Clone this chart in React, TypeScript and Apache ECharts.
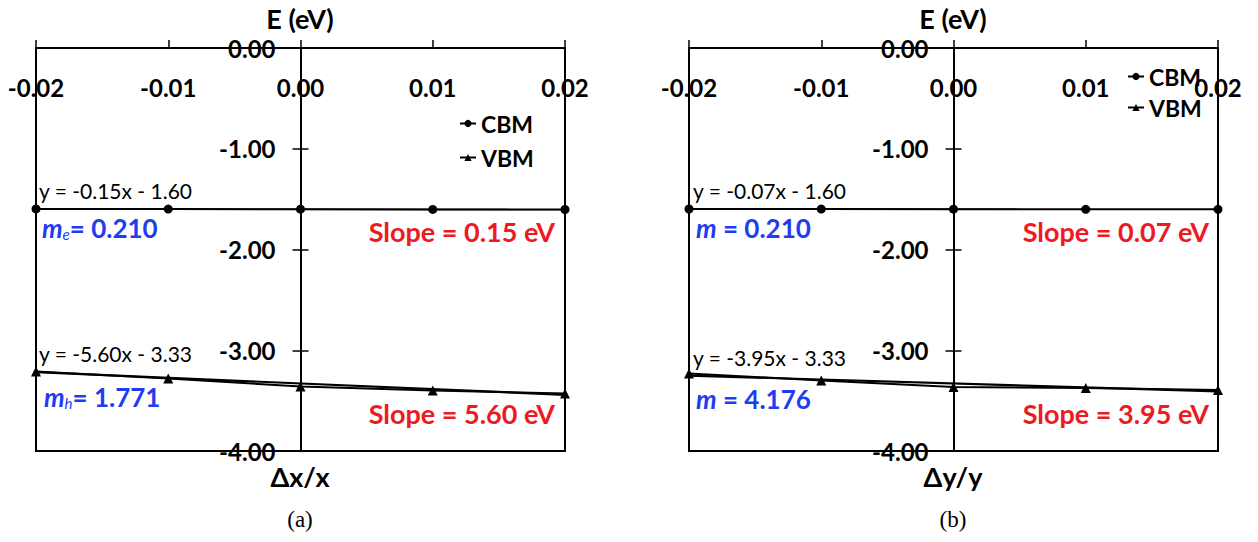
import React, { useEffect, useRef } from "react";
import * as echarts from "echarts";

const strainX = [-0.02, -0.01, 0, 0.01, 0.02];
const xTickRange = [-0.02, 0.02];
const yTickRange = [-4, 0];

// Panel (a): strain along x
const cbmA = [-1.597, -1.599, -1.6, -1.602, -1.603];
const vbmA = [-3.21, -3.28, -3.36, -3.4, -3.43];
// Panel (b): strain along y
const cbmB = [-1.598, -1.599, -1.6, -1.601, -1.601];
const vbmB = [-3.23, -3.3, -3.365, -3.375, -3.395];

// Trendline coefficients [slope, intercept]
const trendCbmA = [-0.15, -1.6];
const trendVbmA = [-5.6, -3.33];
const trendCbmB = [-0.07, -1.6];
const trendVbmB = [-3.95, -3.33];

const seriesNames = ["CBM", "VBM"];
const panelLabels = ["(a)", "(b)"];
const xTitles = ["\u0394x/x", "\u0394y/y"];
const yTitle = "E (eV)";

const FONT = "Lato";
const BLUE = "#1f3cf2";
const RED = "#ee1a22";

function App() {
  const ref = useRef<HTMLDivElement>(null);
  useEffect(() => {
    document.body.style.margin = "0";
    const chart = echarts.init(ref.current!, null, { renderer: "svg" });

    const mainGrids = [
      { left: 36, top: 48, width: 529, height: 403 },
      { left: 689, top: 48, width: 529, height: 403 },
    ];
    // thin grids whose left edge sits at x = 0 of each panel, carrying the E axis
    const zeroFrac = (0 - xTickRange[0]) / (xTickRange[1] - xTickRange[0]);
    const axisGrids = mainGrids.map((g) => ({
      left: g.left + g.width * zeroFrac,
      top: g.top,
      width: 10,
      height: g.height,
    }));

    const grids: any[] = [
      ...mainGrids.map((g) => ({
        ...g,
        show: true,
        borderColor: "#000",
        borderWidth: 2,
        backgroundColor: "transparent",
      })),
      ...axisGrids.map((g) => ({ ...g, show: false })),
    ].map((g) => ({ ...g, containLabel: false, outerBoundsMode: "none" }));

    const xAxes: any[] = [];
    const yAxes: any[] = [];
    mainGrids.forEach((_, gi) => {
      xAxes.push({
        type: "value",
        gridIndex: gi,
        position: "top",
        min: xTickRange[0],
        max: xTickRange[1],
        interval: 0.01,
        axisLine: { onZero: false, lineStyle: { color: "#000", width: 2 } },
        axisTick: { show: true, length: 8, lineStyle: { color: "#000", width: 1.5 } },
        axisLabel: {
          inside: true,
          margin: 27,
          color: "#000",
          fontFamily: FONT,
          fontWeight: "bold",
          fontSize: 24,
          formatter: (v: number) => v.toFixed(2),
        },
        splitLine: { show: false },
      });
    });
    axisGrids.forEach((_, gi) => {
      xAxes.push({
        type: "value",
        gridIndex: gi + 2,
        show: false,
        min: xTickRange[0],
        max: xTickRange[1],
      });
    });
    // hidden y axes for the plotted series
    mainGrids.forEach((_, gi) => {
      yAxes.push({
        type: "value",
        gridIndex: gi,
        show: false,
        min: yTickRange[0],
        max: yTickRange[1],
        interval: 1,
        splitLine: { show: false },
      });
    });
    // visible E axes (outer ticks + labels)
    axisGrids.forEach((_, gi) => {
      yAxes.push({
        type: "value",
        gridIndex: gi + 2,
        position: "left",
        min: yTickRange[0],
        max: yTickRange[1],
        interval: 1,
        axisLine: { onZero: false, lineStyle: { color: "#000", width: 2 } },
        axisTick: { show: true, length: 8, lineStyle: { color: "#000", width: 1.5 } },
        axisLabel: {
          margin: 25,
          color: "#000",
          fontFamily: FONT,
          fontWeight: "bold",
          fontSize: 24,
          formatter: (v: number) => v.toFixed(2),
        },
        splitLine: { show: false },
      });
    });
    // inner halves of the cross ticks
    axisGrids.forEach((_, gi) => {
      yAxes.push({
        type: "value",
        gridIndex: gi + 2,
        position: "left",
        min: yTickRange[0],
        max: yTickRange[1],
        interval: 1,
        axisLine: { onZero: false, lineStyle: { color: "#000", width: 2 } },
        axisTick: { show: true, inside: true, length: 8, lineStyle: { color: "#000", width: 1.5 } },
        axisLabel: { show: false },
        splitLine: { show: false },
      });
    });

    const pts = (ys: number[]) => strainX.map((x, i) => [x, ys[i]]);
    const trend = (c: number[]) => xTickRange.map((x) => [x, c[0] * x + c[1]]);

    const panels = [
      { cbm: cbmA, vbm: vbmA, tc: trendCbmA, tv: trendVbmA },
      { cbm: cbmB, vbm: vbmB, tc: trendCbmB, tv: trendVbmB },
    ];
    const series: any[] = [];
    panels.forEach((p, gi) => {
      series.push({
        name: "CBM",
        type: "line",
        xAxisIndex: gi,
        yAxisIndex: gi,
        data: pts(p.cbm),
        symbol: "circle",
        symbolSize: 9,
        itemStyle: { color: "#000" },
        lineStyle: { color: "#000", width: 2 },
        z: 5,
      });
      series.push({
        name: "CBM trend",
        type: "line",
        xAxisIndex: gi,
        yAxisIndex: gi,
        data: trend(p.tc),
        symbol: "none",
        lineStyle: { color: "#000", width: 1.5 },
        z: 4,
      });
      series.push({
        name: "VBM",
        type: "line",
        xAxisIndex: gi,
        yAxisIndex: gi,
        data: pts(p.vbm),
        symbol: "triangle",
        symbolSize: 10,
        itemStyle: { color: "#000" },
        lineStyle: { color: "#000", width: 2 },
        z: 5,
      });
      series.push({
        name: "VBM trend",
        type: "line",
        xAxisIndex: gi,
        yAxisIndex: gi,
        data: trend(p.tv),
        symbol: "none",
        lineStyle: { color: "#000", width: 2.2 },
        z: 4,
      });
    });

    const legendBase = {
      data: seriesNames,
      orient: "vertical",
      itemWidth: 16,
      itemHeight: 9,
      itemGap: 11,
      selectedMode: false,
      textStyle: { fontFamily: FONT, fontWeight: "bold", fontSize: 23, color: "#000" },
    };
    const legends = [
      { ...legendBase, left: 454, top: 107 },
      { ...legendBase, left: 1122, top: 60, itemGap: 8 },
    ];

    const txt = (text: string, x: number, y: number, opts: any = {}) => ({
      type: "text",
      x,
      y,
      z: 100,
      style: {
        text,
        fontFamily: FONT,
        fontSize: 24,
        fontWeight: "bold",
        fill: "#000",
        textAlign: "left",
        textVerticalAlign: "middle",
        ...opts,
      },
    });

    const mText = (sub: string, val: string, x: number, y: number) => ({
      type: "text",
      x,
      y,
      z: 100,
      style: {
        text: sub ? `{i|m}{s|${sub}}{n|= ${val}}` : `{i|m}{n| = ${val}}`,
        textAlign: "left",
        textVerticalAlign: "middle",
        rich: {
          i: { fontFamily: FONT, fontSize: 26, fontWeight: "bold", fontStyle: "italic", fill: BLUE, color: BLUE },
          s: { fontFamily: FONT, fontSize: 15, fontStyle: "italic", fill: BLUE, color: BLUE, verticalAlign: "bottom", padding: [12, 0, 0, 0] },
          n: { fontFamily: FONT, fontSize: 26, fontWeight: "bold", fill: BLUE, color: BLUE },
        },
      },
    });

    const graphic: any[] = [
      txt(yTitle, 300, 18, { textAlign: "center", fontSize: 27 }),
      txt(yTitle, 953, 18, { textAlign: "center", fontSize: 27 }),
      txt(xTitles[0], 300, 476, { textAlign: "center", fontSize: 27 }),
      txt(xTitles[1], 953, 476, { textAlign: "center", fontSize: 27 }),
      txt(panelLabels[0], 300, 519, { textAlign: "center", fontFamily: "Liberation Serif", fontWeight: "normal", fontSize: 23 }),
      txt(panelLabels[1], 953, 519, { textAlign: "center", fontFamily: "Liberation Serif", fontWeight: "normal", fontSize: 23 }),
      // panel (a)
      txt("y = -0.15x - 1.60", 39, 190, { fontWeight: "normal", fontSize: 21 }),
      txt("y = -5.60x - 3.33", 39, 353, { fontWeight: "normal", fontSize: 21 }),
      mText("e", "0.210", 42, 228),
      mText("h", "1.771", 44, 397),
      txt("Slope = 0.15 eV", 555, 231, { textAlign: "right", fill: RED, fontSize: 27 }),
      txt("Slope = 5.60 eV", 555, 413, { textAlign: "right", fill: RED, fontSize: 27 }),
      // panel (b)
      txt("y = -0.07x - 1.60", 693, 190, { fontWeight: "normal", fontSize: 21 }),
      txt("y = -3.95x - 3.33", 693, 357, { fontWeight: "normal", fontSize: 21 }),
      mText("", "0.210", 696, 228),
      mText("", "4.176", 696, 399),
      txt("Slope = 0.07 eV", 1209, 231, { textAlign: "right", fill: RED, fontSize: 27 }),
      txt("Slope = 3.95 eV", 1209, 413, { textAlign: "right", fill: RED, fontSize: 27 }),
    ];

    chart.setOption({
      animation: false,
      backgroundColor: "#fff",
      grid: grids,
      xAxis: xAxes,
      yAxis: yAxes,
      legend: legends,
      series,
      graphic,
    });
    return () => chart.dispose();
  }, []);
  return <div ref={ref} style={{ width: 1258, height: 542 }} />;
}

export default App;
